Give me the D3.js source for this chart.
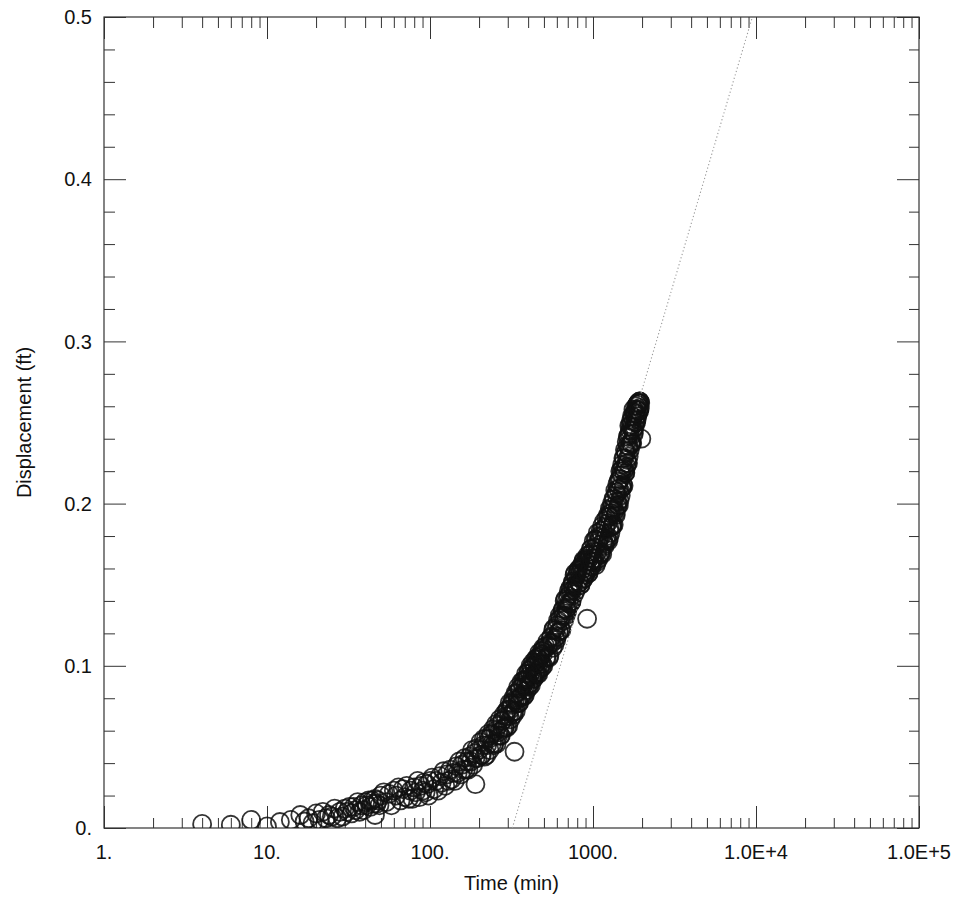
<!DOCTYPE html>
<html>
<head>
<meta charset="utf-8">
<script src="https://cdn.jsdelivr.net/npm/d3@7/dist/d3.min.js"></script>
<style>
  html, body { margin: 0; padding: 0; background: #fff; }
  svg { display: block; font-family: "Liberation Sans", Arial, Helvetica, sans-serif; }
</style>
</head>
<body>
<svg id="chart" width="966" height="905"></svg>
<script>
// ---- Tick labels ----
const xMajorTicks = [1, 10, 100, 1000, 10000, 100000];
const xTickLabels = ["1.", "10.", "100.", "1000.", "1.0E+4", "1.0E+5"];
const yMajorTicks = [0, 0.1, 0.2, 0.3, 0.4, 0.5];
const yTickLabels = ["0.", "0.1", "0.2", "0.3", "0.4", "0.5"];

// ---- Observed data (time in min, displacement in ft) ----
const earlyTime = [4, 6, 8, 10, 12, 14];
const earlyDisp = [0.0025, 0.002, 0.005, 0.001, 0.0037, 0.005];

const segATime = [16,17,18,19,20,21,22,23,24,25,26,27,28,29,30,31,32,33,34,35,36,37,38,39,40,41,42,43,44,45,46,47,48,49,50];
const segADisp = [0.008,0.004,0.006,0.003,0.009,0.005,0.010,0.006,0.008,0.007,0.012,0.006,0.010,0.007,0.012,0.010,0.013,0.009,0.013,0.011,0.016,0.010,0.014,0.011,0.016,0.014,0.017,0.013,0.017,0.015,0.018,0.015,0.017,0.014,0.020];

const segBTime = [52,54,56,58,60,62,64,66,68,70,72,74,76,78,80,82,84,86,88,90,92,94,96,98,100];
const segBDisp = [0.022,0.016,0.021,0.014,0.023,0.020,0.025,0.017,0.024,0.019,0.026,0.018,0.023,0.018,0.025,0.022,0.029,0.019,0.026,0.023,0.028,0.022,0.027,0.020,0.029];

const segCTime = [103,106,109,112,115,118,121,124,127,130,133,136,139,142,145,148,151,154,157,160,163,166,169,172,175,178,181,184,187,190,193,196,199];
const segCDisp = [0.031,0.024,0.029,0.023,0.032,0.028,0.035,0.026,0.033,0.029,0.036,0.030,0.034,0.029,0.038,0.034,0.041,0.033,0.039,0.036,0.043,0.036,0.041,0.036,0.044,0.041,0.048,0.039,0.046,0.043,0.049,0.043,0.048];

const segDTime = [204,208,212,216,220,224,228,232,236,240,244,248,252,256,260,264,268,272,276,280,284,288,292,296,300,304,308,312,316,320,324,328,332,336,340,344,348,352,356,360,364,368,372,376,380,384,388,392,396,400,404,408,412,416,420,424,428,432,436,440,444,448,452,456,460,464,468,472,476,480,484,488,492,496,500];
const segDDisp = [0.053,0.045,0.051,0.044,0.055,0.051,0.058,0.048,0.057,0.052,0.061,0.052,0.060,0.052,0.063,0.059,0.067,0.057,0.066,0.061,0.070,0.062,0.069,0.062,0.073,0.069,0.077,0.067,0.076,0.071,0.080,0.072,0.079,0.072,0.083,0.079,0.087,0.077,0.086,0.081,0.090,0.081,0.088,0.081,0.091,0.087,0.095,0.085,0.093,0.088,0.097,0.089,0.095,0.088,0.099,0.094,0.102,0.092,0.100,0.095,0.104,0.095,0.102,0.095,0.105,0.101,0.108,0.098,0.106,0.101,0.109,0.101,0.107,0.100,0.110];

const segD2Time = [206,214,222,230,238,246,254,262,270,278,286,294,302,310,318,326,334,342,350,358,366,374,382,390,398,406,414,422,430,438,446,454,462,470,478,486,494];
const segD2Disp = [0.045,0.055,0.045,0.055,0.058,0.051,0.064,0.057,0.057,0.066,0.062,0.072,0.063,0.073,0.077,0.070,0.083,0.077,0.077,0.086,0.082,0.091,0.082,0.091,0.095,0.087,0.100,0.093,0.092,0.101,0.096,0.105,0.095,0.104,0.107,0.099,0.111];

const segETime = [510,520,530,540,550,560,570,580,590,600,610,620,630,640,650,660,670,680,690,700,710,720,730,740,750,760,770,780,790,800,810,820,830,840,850,860,870,880,890,900,910,920,930,940,950,960,970,980,990,1000];
const segEDisp = [0.112,0.105,0.112,0.106,0.117,0.114,0.122,0.113,0.122,0.118,0.128,0.121,0.129,0.122,0.134,0.131,0.140,0.131,0.140,0.136,0.146,0.138,0.146,0.140,0.151,0.147,0.156,0.146,0.155,0.150,0.159,0.151,0.157,0.150,0.161,0.157,0.164,0.154,0.163,0.157,0.166,0.158,0.165,0.157,0.168,0.164,0.172,0.161,0.170,0.165];

const segE2Time = [515,525,535,545,555,565,575,585,595,605,615,625,635,645,655,665,675,685,695,705,715,725,735,745,755,765,775,785,795,805,815,825,835,845,855,865,875,885,895,905,915,925,935,945,955,965,975,985,995];
const segE2Disp = [0.105,0.115,0.105,0.114,0.118,0.111,0.123,0.117,0.116,0.125,0.121,0.131,0.122,0.131,0.135,0.128,0.141,0.135,0.134,0.143,0.139,0.148,0.139,0.149,0.152,0.144,0.157,0.150,0.149,0.157,0.152,0.160,0.150,0.159,0.162,0.153,0.165,0.158,0.156,0.164,0.159,0.168,0.157,0.166,0.169,0.161,0.172,0.165,0.164];

const segFTime = [1010,1020,1030,1040,1050,1060,1070,1080,1090,1100,1110,1120,1130,1140,1150,1160,1170,1180,1190,1200,1210,1220,1230,1240,1250,1260,1270,1280,1290,1300,1310,1320,1330,1340,1350,1360,1370,1380,1390,1400,1410,1420,1430,1440,1450,1460,1470,1480,1490,1500,1510,1520,1530,1540,1550,1560,1570,1580,1590,1600,1610,1620,1630,1640,1650,1660,1670,1680,1690,1700,1710,1720,1730,1740,1750,1760,1770,1780,1790,1800,1810,1820,1830,1840,1850,1860,1870,1880,1890,1900,1910,1920,1930,1940,1950];
const segFDisp = [0.177,0.164,0.173,0.162,0.178,0.170,0.182,0.166,0.178,0.169,0.183,0.170,0.180,0.169,0.184,0.177,0.189,0.174,0.185,0.177,0.191,0.178,0.188,0.177,0.192,0.185,0.197,0.182,0.194,0.186,0.200,0.187,0.197,0.187,0.203,0.196,0.208,0.193,0.206,0.198,0.212,0.199,0.209,0.199,0.215,0.208,0.220,0.205,0.218,0.210,0.224,0.212,0.222,0.211,0.228,0.221,0.233,0.219,0.231,0.223,0.238,0.225,0.236,0.225,0.242,0.235,0.248,0.233,0.245,0.237,0.251,0.238,0.248,0.237,0.253,0.246,0.258,0.243,0.255,0.247,0.256,0.250,0.257,0.250,0.258,0.254,0.261,0.255,0.262,0.257,0.262,0.257,0.263,0.259,0.262];

const segF2Time = [1015,1035,1055,1075,1095,1115,1135,1155,1175,1195,1215,1235,1255,1275,1295,1315,1335,1355,1375,1395,1415,1435,1455,1475,1495,1515,1535,1555,1575,1595,1615,1635,1655,1675,1695,1715,1735,1755,1775,1795,1815,1835,1855,1875,1895,1915,1935];
const segF2Disp = [0.166,0.178,0.164,0.176,0.180,0.169,0.186,0.176,0.175,0.186,0.180,0.193,0.179,0.192,0.197,0.186,0.203,0.195,0.194,0.207,0.201,0.214,0.202,0.215,0.221,0.210,0.228,0.220,0.219,0.232,0.227,0.241,0.229,0.243,0.248,0.237,0.254,0.245,0.244,0.256,0.250,0.260,0.252,0.261,0.262,0.258,0.263];

const outlierTime = [46, 190, 330, 920, 1980];
const outlierDisp = [0.008, 0.027, 0.047, 0.129, 0.240];

// ---- Straight-line (Cooper-Jacob) fit ----
const fitTime = [320, 9500];
const fitDisp = [0, 0.5];

// ---- Layout ----
const svg = d3.select("#chart");
const plotLeft = 104, plotRight = 919, plotTop = 17, plotBottom = 828;

const x = d3.scaleLog().domain([1, 100000]).range([plotLeft, plotRight]);
const y = d3.scaleLinear().domain([0, 0.5]).range([plotBottom, plotTop]);

const FONT = 20;
const axisColor = "#333";

svg.append("defs").append("clipPath").attr("id", "plotClip")
  .append("rect")
  .attr("x", plotLeft).attr("y", plotTop)
  .attr("width", plotRight - plotLeft).attr("height", plotBottom - plotTop);

const xAllTicks = x.ticks();
const xMinorTicks = xAllTicks.filter(v => !xMajorTicks.includes(v));
const yMinorTicks = d3.range(0, 0.5001, 0.02).map(v => +v.toFixed(2))
  .filter(v => !yMajorTicks.some(m => Math.abs(m - v) < 1e-9));

function styleAxis(g) {
  g.select(".domain").remove();
  g.selectAll(".tick line").attr("stroke", axisColor).attr("stroke-width", 1);
  g.selectAll(".tick text").remove();
}

svg.append("g").attr("transform", `translate(0,${plotBottom})`)
  .call(d3.axisBottom(x).tickValues(xMajorTicks).tickSizeInner(-22).tickSizeOuter(0)).call(styleAxis);
svg.append("g").attr("transform", `translate(0,${plotBottom})`)
  .call(d3.axisBottom(x).tickValues(xMinorTicks).tickSizeInner(-10).tickSizeOuter(0)).call(styleAxis);
svg.append("g").attr("transform", `translate(0,${plotTop})`)
  .call(d3.axisTop(x).tickValues(xMajorTicks).tickSizeInner(-22).tickSizeOuter(0)).call(styleAxis);
svg.append("g").attr("transform", `translate(0,${plotTop})`)
  .call(d3.axisTop(x).tickValues(xMinorTicks).tickSizeInner(-11).tickSizeOuter(0)).call(styleAxis);
svg.append("g").attr("transform", `translate(${plotLeft},0)`)
  .call(d3.axisLeft(y).tickValues(yMajorTicks).tickSizeInner(-22).tickSizeOuter(0)).call(styleAxis);
svg.append("g").attr("transform", `translate(${plotLeft},0)`)
  .call(d3.axisLeft(y).tickValues(yMinorTicks).tickSizeInner(-11).tickSizeOuter(0)).call(styleAxis);
svg.append("g").attr("transform", `translate(${plotRight},0)`)
  .call(d3.axisRight(y).tickValues(yMajorTicks).tickSizeInner(-22).tickSizeOuter(0)).call(styleAxis);
svg.append("g").attr("transform", `translate(${plotRight},0)`)
  .call(d3.axisRight(y).tickValues(yMinorTicks).tickSizeInner(-10).tickSizeOuter(0)).call(styleAxis);

svg.append("rect")
  .attr("x", plotLeft).attr("y", plotTop)
  .attr("width", plotRight - plotLeft).attr("height", plotBottom - plotTop)
  .attr("fill", "none").attr("stroke", axisColor).attr("stroke-width", 1.2);

svg.append("g").selectAll("text").data(xMajorTicks).join("text")
  .attr("x", d => x(d)).attr("y", plotBottom + 31)
  .attr("text-anchor", "middle").attr("font-size", FONT).attr("fill", "#111")
  .text((d, i) => xTickLabels[i]);
svg.append("g").selectAll("text").data(yMajorTicks).join("text")
  .attr("x", plotLeft - 12).attr("y", d => y(d)).attr("dy", "0.36em")
  .attr("text-anchor", "end").attr("font-size", FONT).attr("fill", "#111")
  .text((d, i) => yTickLabels[i]);

svg.append("text")
  .attr("x", (plotLeft + plotRight) / 2).attr("y", 890)
  .attr("text-anchor", "middle").attr("font-size", FONT).attr("fill", "#111")
  .text("Time (min)");
svg.append("text")
  .attr("transform", `translate(31,${(plotTop + plotBottom) / 2}) rotate(-90)`)
  .attr("text-anchor", "middle").attr("font-size", FONT).attr("fill", "#111")
  .text("Displacement (ft)");

const allTime = [].concat(earlyTime, segATime, segBTime, segCTime, segDTime, segD2Time, segETime, segE2Time, segFTime, segF2Time, outlierTime);
const allDisp = [].concat(earlyDisp, segADisp, segBDisp, segCDisp, segDDisp, segD2Disp, segEDisp, segE2Disp, segFDisp, segF2Disp, outlierDisp);
const points = allTime.map((t, i) => ({ t, d: allDisp[i] }));

svg.append("g").attr("clip-path", "url(#plotClip)")
  .selectAll("circle").data(points).join("circle")
  .attr("cx", p => x(p.t)).attr("cy", p => y(p.d)).attr("r", 9)
  .attr("fill", "none").attr("stroke", "#111").attr("stroke-width", 1.8)
  .attr("stroke-opacity", 0.85);

const fitPts = fitTime.map((t, i) => [t, fitDisp[i]]);
svg.append("path").attr("clip-path", "url(#plotClip)")
  .datum(fitPts)
  .attr("d", d3.line().x(p => x(p[0])).y(p => y(p[1])))
  .attr("fill", "none").attr("stroke", "#999").attr("stroke-width", 1.1)
  .attr("stroke-dasharray", "1.2,2.4");
</script>
</body>
</html>
